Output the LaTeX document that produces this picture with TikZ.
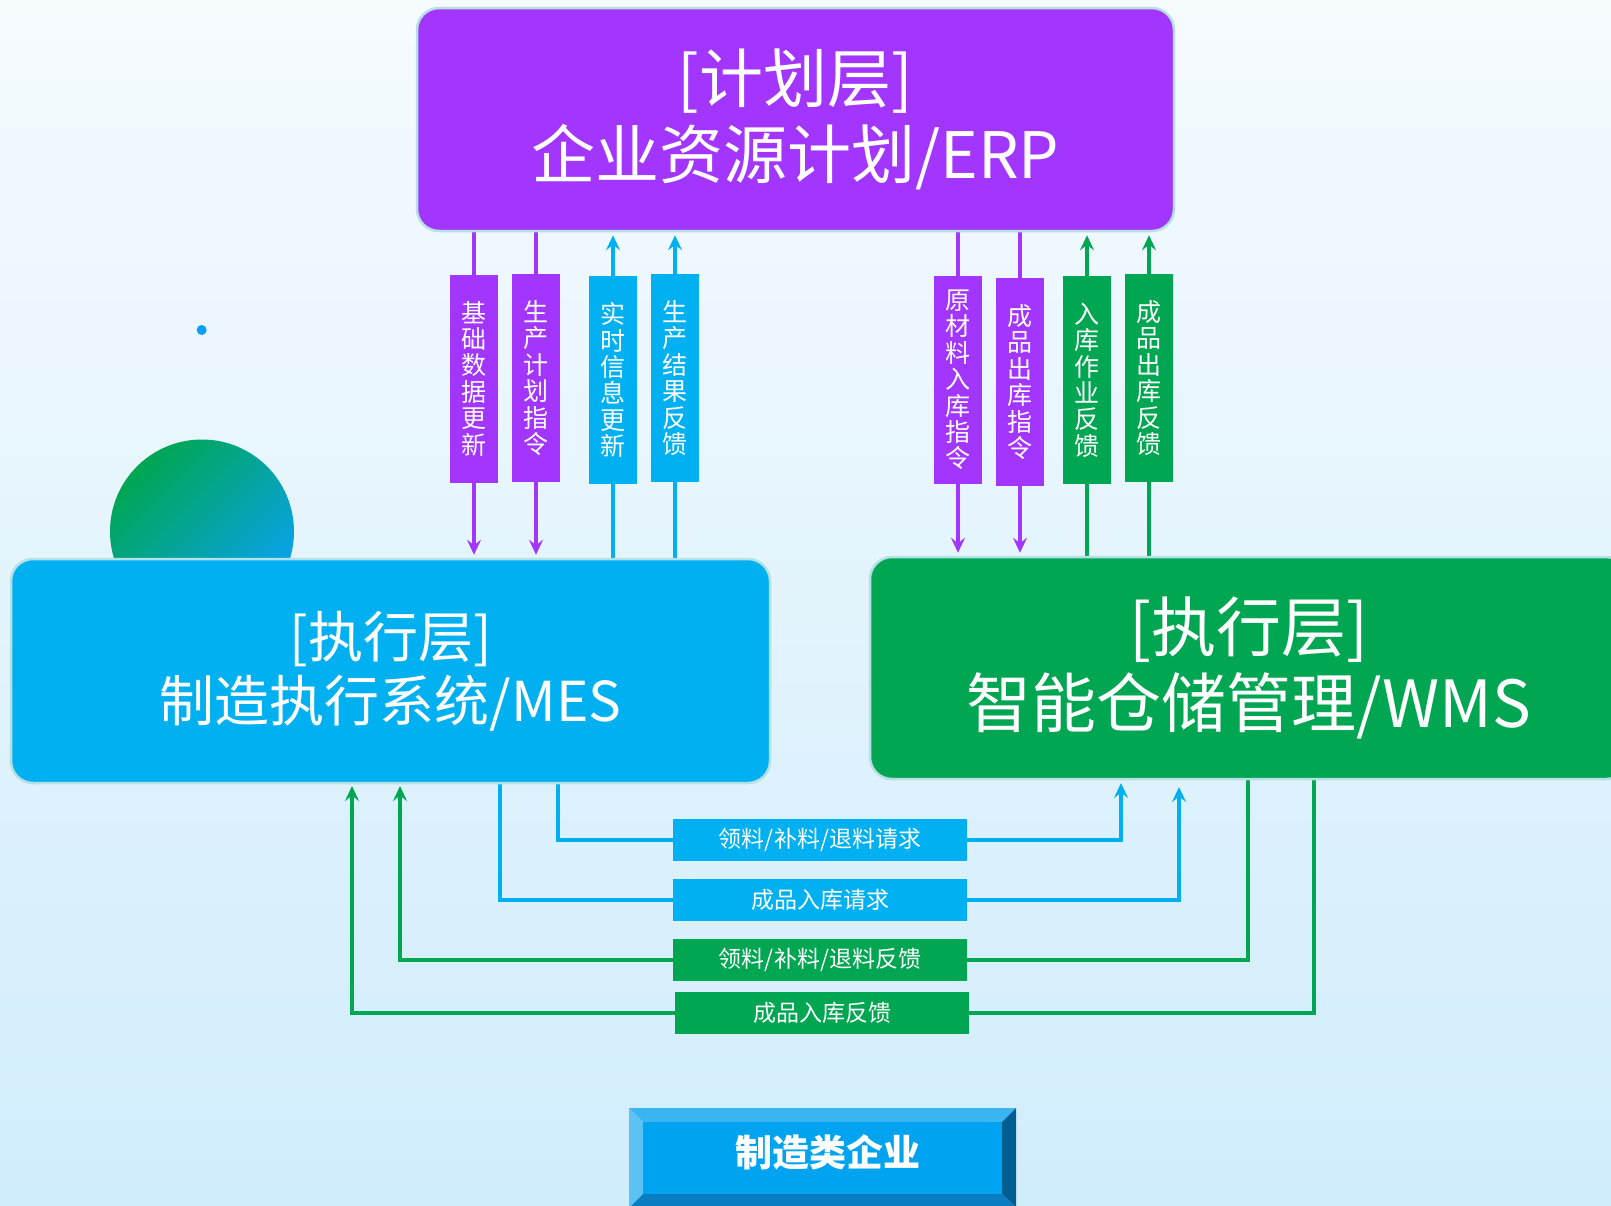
\documentclass[tikz,border=0pt]{standalone}
\usepackage{fontspec}
\setmainfont{Noto Sans CJK SC}
\usetikzlibrary{arrows.meta,calc}
\pgfdeclarelayer{bg}
\pgfdeclarelayer{conn}
\pgfsetlayers{bg,conn,main}

\definecolor{cpurple}{HTML}{A336FE}
\definecolor{cblue}{HTML}{00B0F0}
\definecolor{cgreen}{HTML}{00A651}
\definecolor{cborder}{HTML}{B5E0E6}
\definecolor{bgtop}{HTML}{F6FBFE}
\definecolor{bgbot}{HTML}{D0EDFC}
\definecolor{dotblue}{HTML}{0A9FF0}
\definecolor{circblue}{HTML}{0AA2F2}
\definecolor{bface}{HTML}{00A3EF}
\definecolor{btop}{HTML}{3AB5F2}
\definecolor{bleft}{HTML}{5CC2F3}
\definecolor{bright}{HTML}{005F90}
\definecolor{bbottom}{HTML}{0A7DC2}

\tikzset{
  bigbox/.style={rounded corners=22pt, draw=cborder, line width=2.5pt, text=white, align=center, inner sep=0pt},
  vlab/.style={minimum width=48pt, minimum height=208pt, inner sep=0pt, text=white, align=center, font=\fontsize{25}{26.4}\selectfont},
  hlab/.style={minimum width=294pt, minimum height=42pt, inner sep=0pt, text=white, font=\fontsize{23}{26}\selectfont},
  conn/.style={line width=3.5pt},
  tip/.style={-{Stealth[length=15pt,width=14pt,inset=5.5pt]}, shorten >=3pt},
}

\begin{document}
\begin{tikzpicture}[x=1pt,y=-1pt]
\useasboundingbox (0,0) rectangle (1611,1205);
\clip (0,0) rectangle (1611,1205);

\begin{pgfonlayer}{bg}
\shade[top color=bgtop, bottom color=bgbot] (0,0) rectangle (1611,1205);
\end{pgfonlayer}

% decorative circle and dot
\shade[top color=cgreen, bottom color=circblue, shading angle=45] (202,531.5) circle (92);
\fill[dotblue] (201.7,330) circle (5);

% main boxes
\node[bigbox, fill=cpurple, minimum width=757pt, minimum height=223pt,
      font=\fontsize{64}{76}\selectfont] (erp) at (795.5,119.5) {[计划层]\\企业资源计划/ERP};
\node[bigbox, fill=cblue, minimum width=759pt, minimum height=224pt,
      font=\fontsize{55}{64}\selectfont] (mes) at (390.5,671) {[执行层]\\制造执行系统/MES};
\node[bigbox, fill=cgreen, minimum width=758pt, minimum height=222pt,
      font=\fontsize{65}{76}\selectfont] (wms) at (1249,668) {[执行层]\\智能仓储管理/WMS};

% vertical labels
\node[vlab, fill=cpurple] (l1) at (474,378.5) {基\\础\\数\\据\\更\\新};
\node[vlab, fill=cpurple] (l2) at (536,378) {生\\产\\计\\划\\指\\令};
\node[vlab, fill=cblue]   (l3) at (613,380) {实\\时\\信\\息\\更\\新};
\node[vlab, fill=cblue]   (l4) at (675,378) {生\\产\\结\\果\\反\\馈};
\node[vlab, fill=cpurple] (l5) at (958,380) {原\\材\\料\\入\\库\\指\\令};
\node[vlab, fill=cpurple] (l6) at (1020,382) {成\\品\\出\\库\\指\\令};
\node[vlab, fill=cgreen]  (l7) at (1087,380) {入\\库\\作\\业\\反\\馈};
\node[vlab, fill=cgreen]  (l8) at (1149,378) {成\\品\\出\\库\\反\\馈};

% horizontal labels
\node[hlab, fill=cblue]  (ha) at (820,840) {领料/补料/退料请求};
\node[hlab, fill=cblue]  (hb) at (820,900) {成品入库请求};
\node[hlab, fill=cgreen] (hc) at (820,960) {领料/补料/退料反馈};
\node[hlab, fill=cgreen] (hd) at (822,1013) {成品入库反馈};

% connector end points on box borders
\coordinate (ma) at (558,783);
\coordinate (mb) at (500,783);
\coordinate (mc) at (400,783);
\coordinate (md) at (352,783);
\coordinate (wa) at (1121,780);
\coordinate (wb) at (1179,784);
\coordinate (wc) at (1248,780);
\coordinate (wd) at (1314,780);

\begin{pgfonlayer}{conn}
\foreach \n in {l1,l2} \draw[conn, cpurple, tip] (\n |- erp.south) -- (\n |- mes.north);
\foreach \n in {l3,l4} \draw[conn, cblue, tip] (\n |- mes.north) -- (\n |- erp.south);
\foreach \n in {l5,l6} \draw[conn, cpurple, tip] (\n |- erp.south) -- (\n |- wms.north);
\foreach \n in {l7,l8} \draw[conn, cgreen, tip] (\n |- wms.north) -- (\n |- erp.south);
\draw[conn, cblue, tip] (ma) |- (ha) -| (wa);
\draw[conn, cblue, tip] (mb) |- (hb) -| (wb);
\draw[conn, cgreen, tip] (wc) |- (hc) -| (mc);
\draw[conn, cgreen, tip] (wd) |- (hd) -| (md);
\end{pgfonlayer}

% bottom bevelled button
\fill[btop] (629,1108) -- (1016,1108) -- (1002,1122) -- (643,1122) -- cycle;
\fill[bleft] (629,1108) -- (643,1122) -- (643,1194) -- (629,1208) -- cycle;
\fill[bright] (1016,1108) -- (1016,1208) -- (1002,1194) -- (1002,1122) -- cycle;
\fill[bbottom] (643,1194) -- (1002,1194) -- (1016,1208) -- (629,1208) -- cycle;
\node[fill=bface, minimum width=359pt, minimum height=72pt, inner sep=0pt] (base) at (822.5,1158) {};
\node[text=white, inner sep=0pt, font=\fontsize{37}{40}\selectfont\bfseries] (basetext) at (828,1152) {制造类企业};
\end{tikzpicture}
\end{document}
